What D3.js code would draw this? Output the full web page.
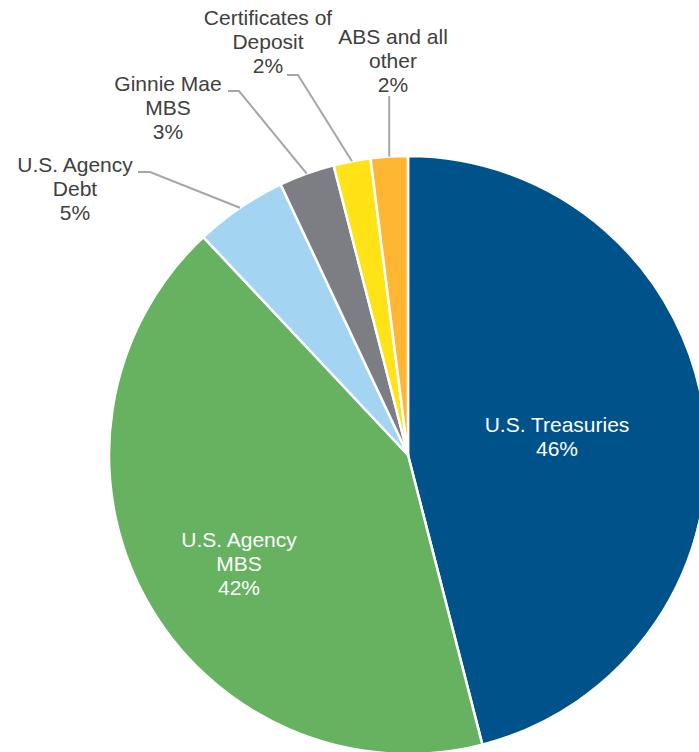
<!DOCTYPE html>
<html>
<head>
<meta charset="utf-8">
<script src="https://cdn.jsdelivr.net/npm/d3@7"></script>
<style>
  body { margin: 0; background: #fff; }
  svg { display: block; font-family: "Liberation Sans", Arial, sans-serif; }
</style>
</head>
<body>
<div id="chart"></div>
<script>
// Portfolio composition (%)
var categories = ["U.S. Treasuries", "U.S. Agency MBS", "U.S. Agency Debt", "Ginnie Mae MBS", "Certificates of Deposit", "ABS and all other"];
var values = [46, 42, 5, 3, 2, 2];
var labelLines = [
    ["U.S. Treasuries"],
    ["U.S. Agency", "MBS"],
    ["U.S. Agency", "Debt"],
    ["Ginnie Mae", "MBS"],
    ["Certificates of", "Deposit"],
    ["ABS and all", "other"]
];
var colors = ["#00528a", "#66b261", "#a3d5f3", "#7d7e83", "#ffe316", "#ffb733"];

var width = 699, height = 752;
var cx = 408, cy = 455, radius = 299;
var fontSize = 21, lineH = 24;

var svg = d3.select('#chart').append('svg')
    .attr('width', width)
    .attr('height', height);

var data = categories.map(function(c, i) {
    return {name: c, value: values[i], lines: labelLines[i], color: colors[i]};
});

var pie = d3.pie()
    .sort(null)
    .value(function(d) { return d.value; });

var arcs = pie(data);

var arc = d3.arc().innerRadius(0).outerRadius(radius);
var edge = d3.arc().innerRadius(radius).outerRadius(radius);

var g = svg.append('g')
    .attr('transform', 'translate(' + cx + ',' + cy + ')');

g.selectAll('path.slice')
    .data(arcs)
    .enter()
    .append('path')
    .classed('slice', true)
    .attr('d', arc)
    .attr('fill', function(d) { return d.data.color; })
    .attr('stroke', '#fff')
    .attr('stroke-width', 2.5)
    .attr('stroke-linejoin', 'round');

// Labels inside the two big slices
var insideLayout = {
    0: {x: 149, y: -30},
    1: {x: -169, y: 85}
};

// Outside labels: label centre x, first line y, elbow point (relative to centre)
var outsideLayout = {
    2: {x: -333, y: -290, elbow: [-258, -283], end: -270},
    3: {x: -240, y: -371, elbow: [-169, -364], end: -180},
    4: {x: -140, y: -437, elbow: [-110, -380], end: -121},
    5: {x: -15, y: -418, elbow: null}
};

arcs.forEach(function(d, i) {
    var pct = d.data.value + '%';
    if (insideLayout[i]) {
        var p = insideLayout[i];
        var t = g.append('text')
            .attr('text-anchor', 'middle')
            .attr('fill', '#fff')
            .style('font-size', fontSize + 'px');
        d.data.lines.concat([pct]).forEach(function(line, k) {
            t.append('tspan')
                .attr('x', p.x)
                .attr('y', p.y + k * lineH + 7)
                .text(line);
        });
        return;
    }
    var o = outsideLayout[i];
    var start = edge.centroid(d);
    var pts;
    if (o.elbow) {
        pts = [start, o.elbow, [o.end, o.elbow[1]]];
    } else {
        pts = [start, [start[0], o.y + 2 * lineH + 11]];
    }
    g.append('path')
        .attr('d', d3.line()(pts))
        .attr('fill', 'none')
        .attr('stroke', '#a6a6a6')
        .attr('stroke-width', 2);

    var t = g.append('text')
        .attr('text-anchor', 'middle')
        .attr('fill', '#404040')
        .style('font-size', fontSize + 'px');
    d.data.lines.concat([pct]).forEach(function(line, k) {
        t.append('tspan')
            .attr('x', o.x)
            .attr('y', o.y + k * lineH + 7)
            .text(line);
    });
});
</script>
</body>
</html>
